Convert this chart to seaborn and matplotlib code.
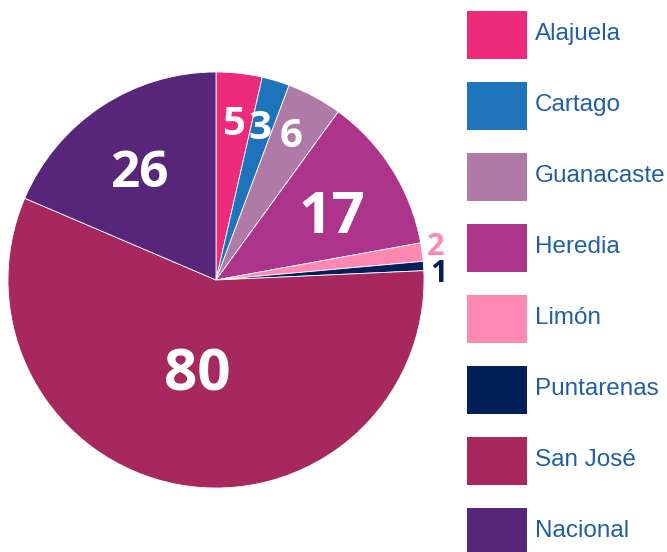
import numpy as np
import matplotlib
matplotlib.use("Agg")
import matplotlib.pyplot as plt
from matplotlib.patches import Rectangle
from matplotlib.transforms import offset_copy
import seaborn as sns

categories = ["Alajuela", "Cartago", "Guanacaste", "Heredia", "Limón",
              "Puntarenas", "San José", "Nacional"]
values = [5, 3, 6, 17, 2, 1, 80, 26]
colors = ["#EE2A7B", "#1F73BA", "#B07AA6", "#AC358B", "#FF88B3",
          "#021F5A", "#A6285E", "#57257A"]
label_colors = ["white", "white", "white", "white", "#FF88B3",
                "#021F5A", "white", "white"]
label_sizes = [29, 29, 29, 42, 22, 22, 42, 37]
label_radii = [0.769, 0.775, 0.796, 0.647, 1.069, 1.071, 0.442, 0.651]
label_angle_shift = [-0.3, -0.9, -1.3, 2.0, -1.6, 1.6, 1.3, -1.2]

sns.set_theme(style="white")
plt.rcParams['font.family'] = ['Liberation Sans', 'DejaVu Sans']

W, H = 667, 552
fig = plt.figure(figsize=(W / 100, H / 100), dpi=100)
cx, cy, r = 216, 280, 208
ax = fig.add_axes([(cx - r) / W, (H - cy - r) / H, 2 * r / W, 2 * r / H])

wedges, _ = ax.pie(values, colors=colors, startangle=90, counterclock=False,
                   radius=1, wedgeprops=dict(edgecolor="white", linewidth=0.6))
ax.set_xlim(-1, 1)
ax.set_ylim(-1, 1)
ax.set_aspect("equal")
ax.axis("off")

total = sum(values)
cum = 0
for v, c, s, rr, sh in zip(values, label_colors, label_sizes, label_radii,
                           label_angle_shift):
    mid = (cum + v / 2) / total * 360 + sh
    cum += v
    ang = np.deg2rad(90 - mid)
    # baseline sits half a digit height below the label's centre
    tr = offset_copy(ax.transData, fig=fig, x=0, y=-0.714 * s / 2, units="points")
    ax.text(rr * np.cos(ang), rr * np.sin(ang), str(v), color=c, fontsize=s,
            fontweight="bold", family=["Open Sans", "DejaVu Sans"],
            ha="center", va="baseline", transform=tr, clip_on=False)

# legend drawn as figure patches and texts
box_x, box_w, box_h, top0, pitch = 467, 60, 48, 11, 71
for i, (name, col) in enumerate(zip(categories, colors)):
    top = top0 + pitch * i
    fig.patches.append(Rectangle((box_x / W, 1 - (top + box_h) / H), box_w / W,
                                 box_h / H, transform=fig.transFigure,
                                 facecolor=col, edgecolor="none"))
    fig.text((box_x + box_w + 8) / W, 1 - (top + box_h / 2 + 5) / H, name,
             fontsize=17.5, color="#1F5FA5", ha="left", va="baseline")

fig.savefig("out.png", dpi=100)
